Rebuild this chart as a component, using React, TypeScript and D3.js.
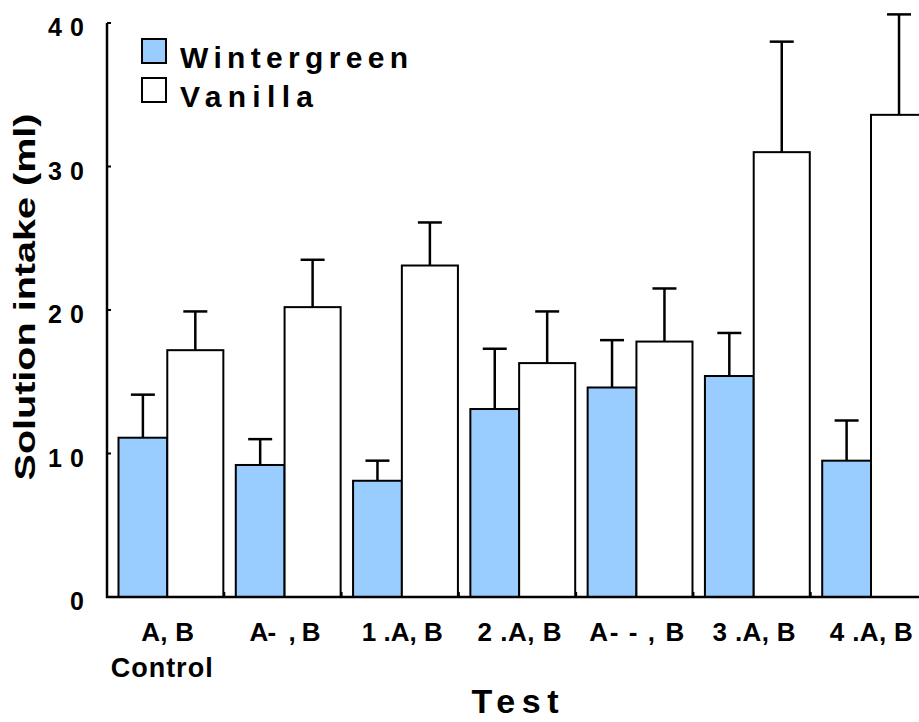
import React from "react";
import * as d3 from "d3";

const categories = ["A, B", "A-  , B", "1 .A, B", "2 .A, B", "A- - , B", "3 .A, B", "4 .A, B"];
const subLabels = ["Control", "", "", "", "", "", ""];
const wintergreen = [11.1, 9.2, 8.1, 13.1, 14.6, 15.4, 9.5];
const wintergreenErr = [3.0, 1.8, 1.4, 4.2, 3.3, 3.0, 2.8];
const vanilla = [17.2, 20.2, 23.1, 16.3, 17.8, 31.0, 33.6];
const vanillaErr = [2.7, 3.3, 3.0, 3.6, 3.7, 7.7, 7.0];
const yTicks = [0, 10, 20, 30, 40];
const seriesNames = ["Wintergreen", "Vanilla"];

const W = 919;
const H = 722;
const FONT = "'Liberation Sans', Arial, sans-serif";
const BLUE = "#99CCFF";

const labelLengths = [53, 71, 81, 84, 95, 83, 83];

export default function App() {
  const x = d3.scaleBand<string>().domain(categories).range([107, 928]).padding(0);
  const y = d3.scaleLinear().domain([0, 40]).range([597, 23]);
  const bw = x.bandwidth();
  const bStart = 0.098, bEnd = 0.514, vEnd = 0.992;
  const capHalf = 12;

  return (
    <svg width={W} height={H} style={{ position: "absolute", left: 0, top: 0, background: "#fff" }} fontFamily={FONT}>
      {/* bars */}
      {categories.map((c, i) => {
        const x0 = x(c)!;
        const bx0 = x0 + bw * bStart, bx1 = x0 + bw * bEnd, vx1 = x0 + bw * vEnd;
        const bc = (bx0 + bx1) / 2, vc = (bx1 + vx1) / 2;
        return (
          <g key={c}>
            <line x1={bc} x2={bc} y1={y(wintergreen[i])} y2={y(wintergreen[i] + wintergreenErr[i])} stroke="#000" strokeWidth={2.5} />
            <line x1={bc - capHalf} x2={bc + capHalf} y1={y(wintergreen[i] + wintergreenErr[i])} y2={y(wintergreen[i] + wintergreenErr[i])} stroke="#000" strokeWidth={2.5} />
            <line x1={vc} x2={vc} y1={y(vanilla[i])} y2={y(vanilla[i] + vanillaErr[i])} stroke="#000" strokeWidth={2.5} />
            <line x1={vc - capHalf} x2={vc + capHalf} y1={y(vanilla[i] + vanillaErr[i])} y2={y(vanilla[i] + vanillaErr[i])} stroke="#000" strokeWidth={2.5} />
            <rect x={bx0} y={y(wintergreen[i])} width={bx1 - bx0} height={y(0) - y(wintergreen[i])} fill={BLUE} stroke="#000" strokeWidth={2} />
            <rect x={bx1} y={y(vanilla[i])} width={vx1 - bx1} height={y(0) - y(vanilla[i])} fill="#fff" stroke="#000" strokeWidth={2} />
          </g>
        );
      })}
      {/* axes */}
      <line x1={107} x2={107} y1={y(40)} y2={y(0) + 1} stroke="#000" strokeWidth={2.5} />
      <line x1={106} x2={W} y1={y(0)} y2={y(0)} stroke="#000" strokeWidth={2.5} />
      {yTicks.map((t) => (
        <g key={t}>
          <line x1={107} x2={111} y1={y(t)} y2={y(t)} stroke="#000" strokeWidth={2} />
          <text x={84} y={y(t) + 13} textAnchor="end" fontSize={25} fontWeight="bold"
            {...(t >= 10 ? { textLength: 36, lengthAdjust: "spacing" } : {})}>{t}</text>
        </g>
      ))}
      {categories.map((c) => (
        <line key={"t" + c} x1={x(c)! + bw} x2={x(c)! + bw} y1={y(0)} y2={y(0) - 5} stroke="#000" strokeWidth={2} />
      ))}
      {categories.map((c, i) => (
        <g key={"l" + c}>
          <text x={x(c)! + bw / 2 + 2} y={641} textAnchor="middle" fontSize={26} fontWeight="bold"
            textLength={labelLengths[i]} lengthAdjust="spacing" style={{ whiteSpace: "pre" }}>{c}</text>
          {subLabels[i] && (
            <text x={x(c)! + bw / 2 - 4} y={677} textAnchor="middle" fontSize={27} fontWeight="bold"
              textLength={102} lengthAdjust="spacing">{subLabels[i]}</text>
          )}
        </g>
      ))}
      {/* axis titles */}
      <text x={515} y={713} textAnchor="middle" fontSize={34} fontWeight="bold" textLength={87} lengthAdjust="spacing">Test</text>
      <text transform="translate(35,297) rotate(-90)" textAnchor="middle" fontSize={30} fontWeight="bold" textLength={367} lengthAdjust="spacingAndGlyphs">Solution intake (ml)</text>
      {/* legend */}
      {seriesNames.map((s, i) => (
        <g key={s}>
          <rect x={142} y={39 + i * 39} width={24} height={24} fill={i === 0 ? BLUE : "#fff"} stroke="#000" strokeWidth={2} />
          <text x={180} y={68 + i * 39} fontSize={30} fontWeight="bold" textLength={i === 0 ? 228 : 133} lengthAdjust="spacing">{s}</text>
        </g>
      ))}
    </svg>
  );
}
